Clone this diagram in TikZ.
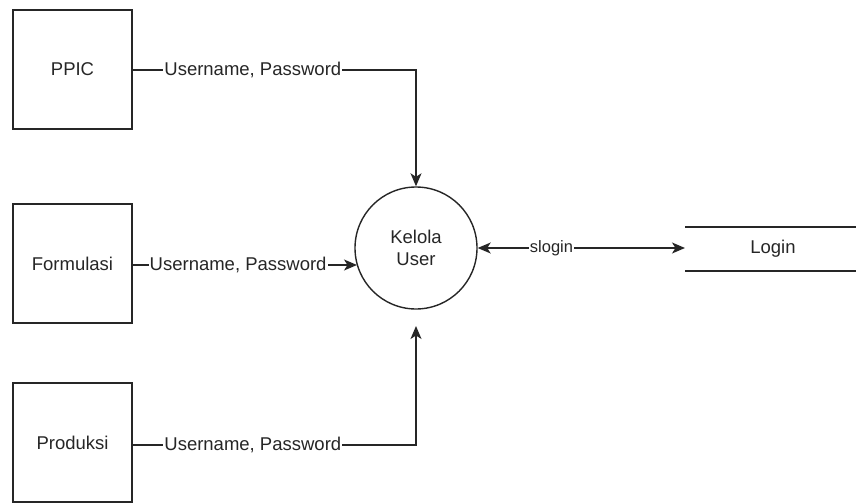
\documentclass[tikz,border=0pt]{standalone}
\usepackage{fontspec}
\setmainfont{Liberation Sans}
\usetikzlibrary{arrows.meta}
\begin{document}
\begin{tikzpicture}[x=1pt,y=-1pt,
  every node/.style={font=\fontsize{18.5}{22}\selectfont, text=black!85},
  entity/.style={draw=black!85, line width=1.4pt, minimum width=119pt, minimum height=119pt, inner sep=0pt},
  process/.style={draw=black!85, line width=1.4pt, circle, minimum size=122pt, inner sep=0pt, align=center},
  flow/.style={draw=black!85, line width=1.4pt, -{Stealth[length=13pt,width=11pt,inset=3.5pt]}},
  biflow/.style={draw=black!85, line width=1.4pt, {Stealth[length=13pt,width=11pt,inset=3.5pt]}-{Stealth[length=13pt,width=11pt,inset=3.5pt]}},
  lbl/.style={fill=white, inner sep=1pt},
  small/.style={font=\fontsize{16.5}{20}\selectfont}]
\useasboundingbox (0,0) rectangle (856,503);

% external entities
\node[entity] (ppic) at (72.5,69.5) {PPIC};
\node[entity] (form) at (72.5,263.5) {Formulasi};
\node[entity] (prod) at (72.5,442.5) {Produksi};

% process
\node[process] (kelola) at (416,248) {Kelola\\User};

% data store
\coordinate (dsl) at (685,248);
\draw[draw=black!85, line width=1.4pt] (685,227) -- (856,227);
\draw[draw=black!85, line width=1.4pt] (685,271) -- (856,271);
\node (login) at (773,249) {Login};

% data flows
\coordinate (c1) at (416,70);
\coordinate (c2) at (416,445);
\coordinate (c2e) at (416,326);
\coordinate (fin) at (357,265);
\draw[flow] (ppic.east |- c1) -- node[lbl, pos=0.424] {Username, Password} (c1) -- (kelola.north);
\draw[flow] (form.east |- fin) -- node[lbl, pos=0.47] {Username, Password} (fin);
\draw[flow] (prod.east |- c2) -- node[lbl, pos=0.424] {Username, Password} (c2) -- (c2e);
\draw[biflow] (kelola.east) -- node[lbl, small, pos=0.356] {slogin} (dsl);
\end{tikzpicture}
\end{document}
